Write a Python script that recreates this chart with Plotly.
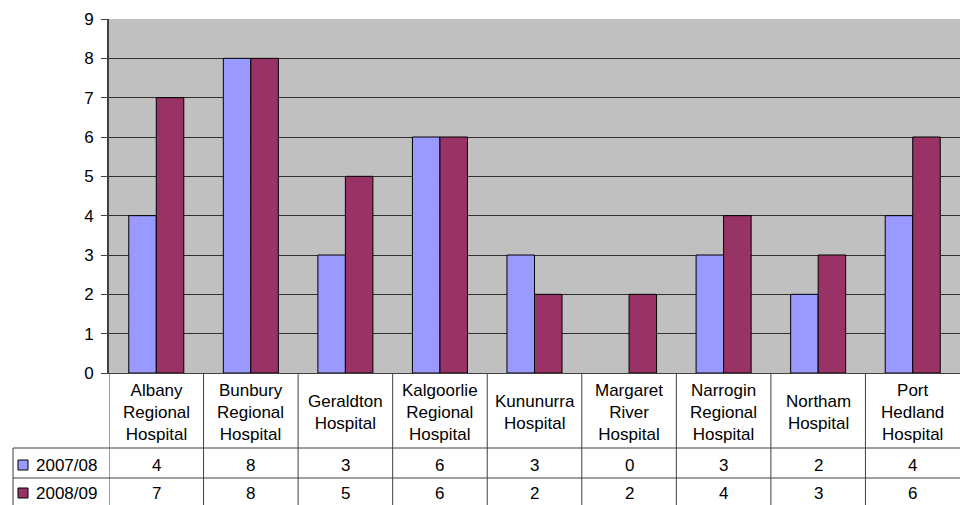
import plotly.graph_objects as go

categories = ["Albany<br>Regional<br>Hospital", "Bunbury<br>Regional<br>Hospital",
              "Geraldton<br>Hospital", "Kalgoorlie<br>Regional<br>Hospital",
              "Kununurra<br>Hospital", "Margaret<br>River<br>Hospital",
              "Narrogin<br>Regional<br>Hospital", "Northam<br>Hospital",
              "Port<br>Hedland<br>Hospital"]
series_names = ["2007/08", "2008/09"]
values_0708 = [4, 8, 3, 6, 3, 0, 3, 2, 4]
values_0809 = [7, 8, 5, 6, 2, 2, 4, 3, 6]
colors = ["#9999FF", "#993366"]
y_ticks = list(range(0, 10))

FONT = "Liberation Sans, Arial, sans-serif"
FS = 17
W, H = 960, 505
ML, MR, MT, MB = 109, 0, 19, 132
PH = H - MT - MB
PW = W - ML - MR


def py(pix):
    """pixel y -> paper y"""
    return (H - MB - pix) / PH


def px(pix):
    return (pix - ML) / PW


xs = list(range(len(categories)))
fig = go.Figure()
for name, vals, col in zip(series_names, [values_0708, values_0809], colors):
    fig.add_trace(go.Bar(x=xs, y=vals, name=name,
                         marker=dict(color=col, line=dict(color="#000000",
                                                          width=[0 if v == 0 else 1 for v in vals])),
                         showlegend=False))

line_col = "#404040"
ann = []
shapes = []
# category labels
for i, c in enumerate(categories):
    ann.append(dict(x=i, xref="x", y=py(412), yref="paper", text=c, showarrow=False,
                    font=dict(family=FONT, size=FS, color="#000"), xanchor="center", yanchor="middle"))
# table values
row_centers = [py(465), py(493)]
for r, vals in enumerate([values_0708, values_0809]):
    for i, v in enumerate(vals):
        ann.append(dict(x=i, xref="x", y=row_centers[r], yref="paper", text=str(v), showarrow=False,
                        font=dict(family=FONT, size=FS, color="#000"), xanchor="center", yanchor="middle"))
    # legend key and name
    ann.append(dict(x=px(34), xref="paper", y=row_centers[r], yref="paper", text=series_names[r], showarrow=False,
                    font=dict(family=FONT, size=FS, color="#000"), xanchor="left", yanchor="middle"))
    shapes.append(dict(type="rect", xref="paper", yref="paper", x0=px(18), x1=px(28),
                       y0=row_centers[r] - 5 / PH, y1=row_centers[r] + 5 / PH,
                       fillcolor=colors[r], line=dict(color="#000", width=1)))

# table lines
bottom = py(510)
for i in range(len(categories)):
    shapes.append(dict(type="line", xref="x", yref="paper", x0=i - 0.5, x1=i - 0.5, y0=0, y1=bottom,
                       line=dict(color=line_col, width=1)))
shapes.append(dict(type="line", xref="paper", yref="paper", x0=px(13), x1=px(13), y0=py(448), y1=bottom,
                   line=dict(color=line_col, width=1)))
for yy in [448, 478]:
    shapes.append(dict(type="line", xref="paper", yref="paper", x0=px(13), x1=1, y0=py(yy), y1=py(yy),
                       line=dict(color=line_col, width=1)))

fig.update_layout(
    width=W, height=H, margin=dict(l=ML, r=MR, t=MT, b=MB, pad=0),
    paper_bgcolor="#FFFFFF", plot_bgcolor="#C0C0C0",
    barmode="group", bargap=0.418, bargroupgap=0,
    font=dict(family=FONT, size=FS, color="#000"),
    annotations=ann, shapes=shapes,
    xaxis=dict(range=[-0.5, len(categories) - 0.5], showticklabels=False, ticks="", showgrid=False,
               zeroline=False, showline=True, linecolor=line_col, linewidth=1, fixedrange=True),
    yaxis=dict(range=[0, 9], tickvals=y_ticks, ticks="outside", ticklen=6, tickcolor=line_col,
               showgrid=True, gridcolor="#303030", gridwidth=1, zeroline=False,
               showline=True, linecolor=line_col, linewidth=2,
               tickfont=dict(family=FONT, size=FS, color="#000"), ticklabelstandoff=4),
)

fig.write_html("out.html", config={"displayModeBar": False},
               post_script="document.body.style.margin='0';document.body.style.overflow='hidden';")
